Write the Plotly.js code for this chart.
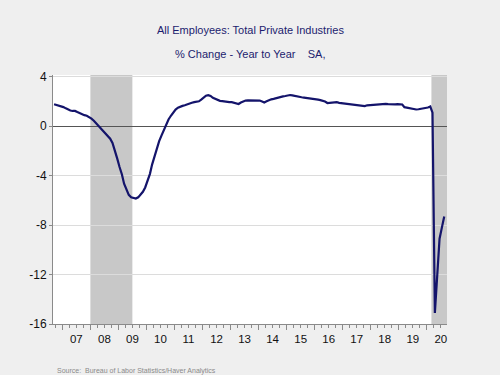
<!DOCTYPE html>
<html>
<head>
<meta charset="utf-8">
<script src="https://cdn.plot.ly/plotly-3.0.1.min.js"></script>
<style>html,body{margin:0;padding:0;background:#efefef;}#chart{width:500px;height:375px;}</style>
</head>
<body>
<div id="chart"></div>
<script>
// Monthly series: Sep 2006 .. Aug 2020, % change year to year
const startYear = 2006, startMonth = 9;
const yoyValues = [
  1.78,1.72,1.70,1.64,1.55,1.45,1.35,1.28,1.24,1.24,1.15,1.05,
  0.97,0.90,0.85,0.75,0.62,0.45,0.25,0.05,-0.20,-0.45,-0.65,-0.80,
  -1.00,-1.35,-1.90,-2.60,-3.30,-3.90,-4.65,-5.20,-5.55,-5.75,-5.82,-5.85,
  -5.75,-5.55,-5.30,-4.95,-4.45,-3.85,-3.10,-2.40,-1.80,-1.20,-0.75,-0.30,
  0.15,0.55,0.85,1.15,1.35,1.50,1.60,1.65,1.70,1.78,1.85,1.90,
  1.95,2.00,2.02,2.15,2.30,2.48,2.52,2.45,2.30,2.20,2.12,2.06,
  2.04,2.00,2.00,1.96,1.95,1.90,1.82,1.80,1.92,2.02,2.08,2.10,
  2.10,2.12,2.10,2.14,2.08,2.00,1.93,2.02,2.12,2.18,2.22,2.28,
  2.33,2.38,2.42,2.45,2.50,2.53,2.50,2.45,2.42,2.38,2.35,2.32,
  2.30,2.28,2.22,2.20,2.18,2.15,2.12,2.08,2.00,1.88,1.90,1.95,
  1.97,1.95,1.90,1.88,1.86,1.85,1.82,1.80,1.78,1.77,1.74,1.70,
  1.65,1.64,1.70,1.72,1.75,1.78,1.77,1.80,1.82,1.84,1.82,1.80,
  1.78,1.80,1.78,1.80,1.80,1.76,1.55,1.50,1.48,1.42,1.38,1.36,
  1.38,1.42,1.40,1.45,1.52,1.60,1.10,-15.10,-12.40,-9.10,-8.20,-7.30
];
const recessions = [["2008-01-01","2009-07-01"],["2020-03-01","2020-09-20"]];
const yearTickVals = ["2007-07-02","2008-07-02","2009-07-02","2010-07-02","2011-07-02","2012-07-02","2013-07-02","2014-07-02","2015-07-02","2016-07-02","2017-07-02","2018-07-02","2019-07-02","2020-07-02"];
const yearTickText = ["07","08","09","10","11","12","13","14","15","16","17","18","19","20"];
const yearStarts = ["2007-01-01","2008-01-01","2009-01-01","2010-01-01","2011-01-01","2012-01-01","2013-01-01","2014-01-01","2015-01-01","2016-01-01","2017-01-01","2018-01-01","2019-01-01","2020-01-01"];
const yTickVals = [4,0,-4,-8,-12,-16];
const yTickText = ["4","0","-4","-8","-12","-16"];
const titleLine1 = "All Employees: Total Private Industries";
const titleLine2 = "% Change - Year to Year&nbsp;&nbsp;&nbsp;&nbsp;SA,";
const sourceText = "Source:&nbsp;&nbsp;Bureau of Labor Statistics/Haver Analytics";

function pad(n){return (n<10?"0":"")+n;}
const dates = yoyValues.map((v,i)=>{
  const m0 = startMonth - 1 + i;
  const y = startYear + Math.floor(m0/12);
  const m = (m0 % 12) + 1;
  return y + "-" + pad(m) + "-15";
});

const xRange = ["2006-09-01","2020-09-20"];

const trace = {
  x: dates, y: yoyValues, type: "scatter", mode: "lines",
  line: {color: "#14146b", width: 2.2}, hoverinfo: "skip"
};
const tickTrace = {x: [xRange[0]], y: [null], xaxis: "x2", yaxis: "y", type: "scatter", mode: "lines", showlegend: false};

const shapes = recessions.map(r=>({
  type: "rect", xref: "x", yref: "paper", x0: r[0], x1: r[1], y0: 0, y1: 1,
  fillcolor: "#c8c8c8", line: {width: 0}, layer: "below"
}));

const layout = {
  width: 500, height: 375,
  paper_bgcolor: "#efefef", plot_bgcolor: "#ffffff",
  margin: {l: 53, r: 53, t: 75, b: 51},
  showlegend: false,
  font: {family: "Arial, Liberation Sans, sans-serif", color: "#111"},
  xaxis: {
    type: "date", range: xRange,
    tickmode: "array", tickvals: yearTickVals, ticktext: yearTickText,
    ticks: "", showgrid: false, zeroline: false, ticklabelstandoff: 4,
    showline: true, linecolor: "#8a8a8a", linewidth: 1,
    tickfont: {size: 11.5, color: "#111"},
    minor: {dtick: "M3", tick0: "2006-01-01", ticks: "outside", ticklen: 3, tickcolor: "#8a8a8a", showgrid: false}
  },
  xaxis2: {
    type: "date", range: xRange, overlaying: "x", anchor: "y", side: "bottom",
    tickmode: "array", tickvals: yearStarts, showticklabels: false,
    ticks: "outside", ticklen: 5, tickcolor: "#8a8a8a",
    showgrid: false, zeroline: false, showline: false
  },
  yaxis: {
    range: [-16, 4.15], tickmode: "array", tickvals: yTickVals, ticktext: yTickText,
    ticks: "outside", ticklen: 3, tickcolor: "#8a8a8a",
    showgrid: true, gridcolor: "#dcdcdc", gridwidth: 1,
    zeroline: true, zerolinecolor: "#555555", zerolinewidth: 1,
    showline: true, linecolor: "#8a8a8a", linewidth: 1,
    tickfont: {size: 12, color: "#111"}
  },
  shapes: shapes,
  annotations: [
    {text: titleLine1, xref: "paper", yref: "paper", x: 0.5, y: 1.1807, xanchor: "center", yanchor: "middle", showarrow: false, font: {size: 11, color: "#1c1c6e"}},
    {text: titleLine2, xref: "paper", yref: "paper", x: 0.5, y: 1.0843, xanchor: "center", yanchor: "middle", showarrow: false, font: {size: 11, color: "#1c1c6e"}},
    {text: sourceText, xref: "paper", yref: "paper", x: 0.005, y: -0.1888, xanchor: "left", yanchor: "middle", showarrow: false, font: {size: 7, color: "#8a8a8a"}}
  ]
};

Plotly.newPlot("chart", [trace, tickTrace], layout, {displayModeBar: false, staticPlot: true});
</script>
</body>
</html>
